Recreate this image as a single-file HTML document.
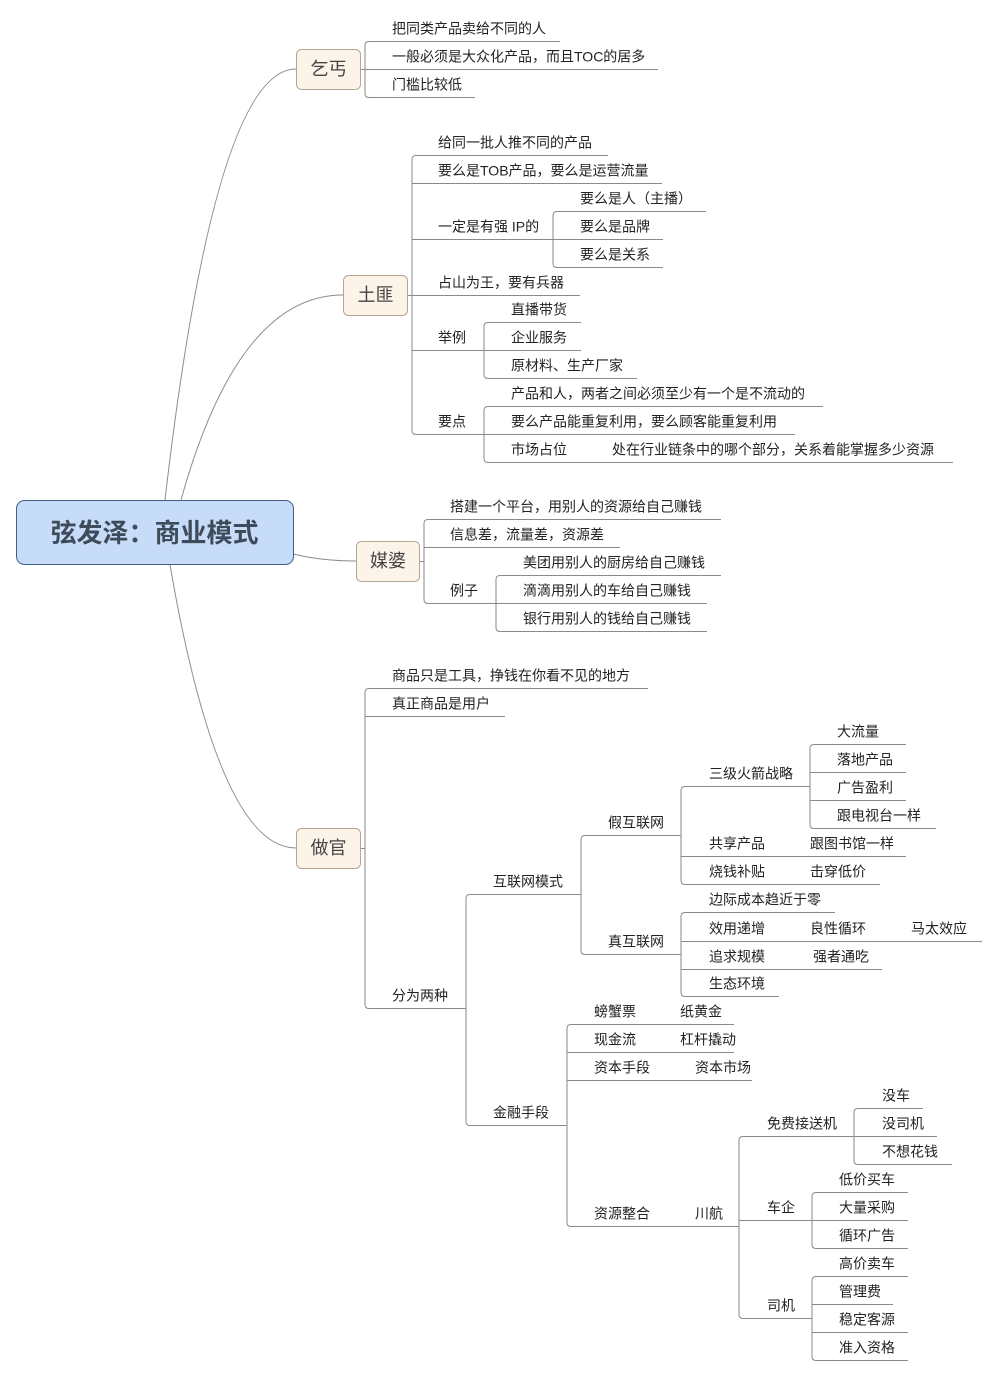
<!DOCTYPE html>
<html>
<head>
<meta charset="utf-8">
<style>
  html, body { margin: 0; padding: 0; background: #ffffff; }
  body { width: 997px; height: 1376px; overflow: hidden; }
  svg { display: block; }
  .t { font-family: "Liberation Sans", "Noto Sans CJK SC", sans-serif; font-size: 14px; fill: #222; }
  .m { font-family: "Liberation Sans", "Noto Sans CJK SC", sans-serif; font-size: 18px; fill: #444; text-anchor: middle; }
  .c { font-family: "Liberation Sans", "Noto Sans CJK SC", sans-serif; font-size: 26px; font-weight: bold; fill: #3f4b5b; text-anchor: middle; }
  .ln { fill: none; stroke: #8a8a8a; stroke-width: 1; }
  .cv { fill: none; stroke: #8c8c8c; stroke-width: 1; }
  .box { fill: #fcf3e9; stroke: #b5a593; stroke-width: 1; }
</style>
</head>
<body>
<svg width="997" height="1376" viewBox="0 0 997 1376" xmlns="http://www.w3.org/2000/svg">
  <!-- main curves -->
  <path class="cv" d="M165 500 Q215 69 296 69"/>
  <path class="cv" d="M181 500 Q238 295 343 295"/>
  <path class="cv" d="M170 565 Q219 848 296 848"/>
  <path class="cv" d="M293 554 Q322 561 356 561"/>

  <!-- central topic -->
  <rect x="16.5" y="500.5" width="277" height="64" rx="8" ry="8" fill="#c6dcf8" stroke="#44608a" stroke-width="1"/>
  <text class="c" x="154.5" y="542">弦发泽：商业模式</text>

  <!-- boxes -->
  <rect class="box" x="296.5" y="49.5" width="64" height="40" rx="5" ry="5"/>
  <text class="m" x="328.5" y="75">乞丐</text>
  <rect class="box" x="343.5" y="275.5" width="64" height="40" rx="5" ry="5"/>
  <text class="m" x="375.5" y="301">土匪</text>
  <rect class="box" x="356.5" y="541.5" width="63" height="40" rx="5" ry="5"/>
  <text class="m" x="388" y="567">媒婆</text>
  <rect class="box" x="296.5" y="828.5" width="64" height="40" rx="5" ry="5"/>
  <text class="m" x="328.5" y="854">做官</text>

  <g transform="translate(0,0.5)">
    <!-- 乞丐 -->
    <path class="ln" d="M560 41H369Q365 41 365 45V93Q365 97 369 97H475"/>
    <path class="ln" d="M361 69H658"/>
    <!-- 土匪 -->
    <path class="ln" d="M608 155H416Q412 155 412 159V430Q412 434 416 434H795"/>
    <path class="ln" d="M412 183H662"/>
    <path class="ln" d="M412 239H663"/>
    <path class="ln" d="M408 295H580"/>
    <path class="ln" d="M412 350H581"/>
    <path class="ln" d="M706 211H557Q553 211 553 215V263Q553 267 557 267H663"/>
    <path class="ln" d="M581 322H488Q484 322 484 326V374Q484 378 488 378H637"/>
    <path class="ln" d="M823 406H488Q484 406 484 410V458Q484 462 488 462H953"/>
    <!-- 媒婆 -->
    <path class="ln" d="M721 519H428Q424 519 424 523V599Q424 603 428 603H707"/>
    <path class="ln" d="M424 547H620"/>
    <path class="ln" d="M420 561H424"/>
    <path class="ln" d="M721 575H500Q496 575 496 579V627Q496 631 500 631H707"/>
    <!-- 做官 -->
    <path class="ln" d="M648 688H369Q365 688 365 692V1004Q365 1008 369 1008H466"/>
    <path class="ln" d="M365 716H505"/>
    <path class="ln" d="M361 848H365"/>
    <path class="ln" d="M581 894H470Q466 894 466 898V1121Q466 1125 470 1125H567"/>
    <path class="ln" d="M681 835H585Q581 835 581 839V950Q581 954 585 954H681"/>
    <path class="ln" d="M810 786H685Q681 786 681 790V880Q681 884 685 884H880"/>
    <path class="ln" d="M681 856H906"/>
    <path class="ln" d="M906 744H814Q810 744 810 748V824Q810 828 814 828H936"/>
    <path class="ln" d="M810 772H906"/>
    <path class="ln" d="M810 800H906"/>
    <path class="ln" d="M835 912H685Q681 912 681 916V992Q681 996 685 996H779"/>
    <path class="ln" d="M681 941H982"/>
    <path class="ln" d="M681 969H882"/>
    <path class="ln" d="M734 1024H571Q567 1024 567 1028V1222Q567 1226 571 1226H739"/>
    <path class="ln" d="M567 1052H734"/>
    <path class="ln" d="M567 1080H752"/>
    <path class="ln" d="M854 1136H743Q739 1136 739 1140V1314Q739 1318 743 1318H812"/>
    <path class="ln" d="M739 1220H908"/>
    <path class="ln" d="M923 1108H858Q854 1108 854 1112V1160Q854 1164 858 1164H952"/>
    <path class="ln" d="M854 1136H937"/>
    <path class="ln" d="M908 1192H816Q812 1192 812 1196V1244Q812 1248 816 1248H908"/>
    <path class="ln" d="M908 1276H816Q812 1276 812 1280V1356Q812 1360 816 1360H908"/>
    <path class="ln" d="M812 1304H893"/>
    <path class="ln" d="M812 1332H908"/>
  </g>

  <g transform="translate(0,-1.5)">
    <!-- 乞丐 -->
    <text class="t" x="392" y="35">把同类产品卖给不同的人</text>
    <text class="t" x="392" y="63">一般必须是大众化产品，而且TOC的居多</text>
    <text class="t" x="392" y="91">门槛比较低</text>
    <!-- 土匪 -->
    <text class="t" x="438" y="149">给同一批人推不同的产品</text>
    <text class="t" x="438" y="177">要么是TOB产品，要么是运营流量</text>
    <text class="t" x="438" y="233">一定是有强 IP的</text>
    <text class="t" x="580" y="205">要么是人（主播）</text>
    <text class="t" x="580" y="233">要么是品牌</text>
    <text class="t" x="580" y="261">要么是关系</text>
    <text class="t" x="438" y="289">占山为王，要有兵器</text>
    <text class="t" x="511" y="316">直播带货</text>
    <text class="t" x="438" y="344">举例</text>
    <text class="t" x="511" y="344">企业服务</text>
    <text class="t" x="511" y="372">原材料、生产厂家</text>
    <text class="t" x="511" y="400">产品和人，两者之间必须至少有一个是不流动的</text>
    <text class="t" x="438" y="428">要点</text>
    <text class="t" x="511" y="428">要么产品能重复利用，要么顾客能重复利用</text>
    <text class="t" x="511" y="456">市场占位</text>
    <text class="t" x="612" y="456">处在行业链条中的哪个部分，关系着能掌握多少资源</text>
    <!-- 媒婆 -->
    <text class="t" x="450" y="513">搭建一个平台，用别人的资源给自己赚钱</text>
    <text class="t" x="450" y="541">信息差，流量差，资源差</text>
    <text class="t" x="450" y="597">例子</text>
    <text class="t" x="523" y="569">美团用别人的厨房给自己赚钱</text>
    <text class="t" x="523" y="597">滴滴用别人的车给自己赚钱</text>
    <text class="t" x="523" y="625">银行用别人的钱给自己赚钱</text>
    <!-- 做官 -->
    <text class="t" x="392" y="682">商品只是工具，挣钱在你看不见的地方</text>
    <text class="t" x="392" y="710">真正商品是用户</text>
    <text class="t" x="392" y="1002">分为两种</text>
    <text class="t" x="493" y="888">互联网模式</text>
    <text class="t" x="608" y="829">假互联网</text>
    <text class="t" x="709" y="780">三级火箭战略</text>
    <text class="t" x="837" y="738">大流量</text>
    <text class="t" x="837" y="766">落地产品</text>
    <text class="t" x="837" y="794">广告盈利</text>
    <text class="t" x="837" y="822">跟电视台一样</text>
    <text class="t" x="709" y="850">共享产品</text>
    <text class="t" x="810" y="850">跟图书馆一样</text>
    <text class="t" x="709" y="878">烧钱补贴</text>
    <text class="t" x="810" y="878">击穿低价</text>
    <text class="t" x="608" y="948">真互联网</text>
    <text class="t" x="709" y="906">边际成本趋近于零</text>
    <text class="t" x="709" y="935">效用递增</text>
    <text class="t" x="810" y="935">良性循环</text>
    <text class="t" x="911" y="935">马太效应</text>
    <text class="t" x="709" y="963">追求规模</text>
    <text class="t" x="813" y="963">强者通吃</text>
    <text class="t" x="709" y="990">生态环境</text>
    <text class="t" x="493" y="1119">金融手段</text>
    <text class="t" x="594" y="1018">螃蟹票</text>
    <text class="t" x="680" y="1018">纸黄金</text>
    <text class="t" x="594" y="1046">现金流</text>
    <text class="t" x="680" y="1046">杠杆撬动</text>
    <text class="t" x="594" y="1074">资本手段</text>
    <text class="t" x="695" y="1074">资本市场</text>
    <text class="t" x="594" y="1220">资源整合</text>
    <text class="t" x="695" y="1220">川航</text>
    <text class="t" x="767" y="1130">免费接送机</text>
    <text class="t" x="882" y="1102">没车</text>
    <text class="t" x="882" y="1130">没司机</text>
    <text class="t" x="882" y="1158">不想花钱</text>
    <text class="t" x="767" y="1214">车企</text>
    <text class="t" x="839" y="1186">低价买车</text>
    <text class="t" x="839" y="1214">大量采购</text>
    <text class="t" x="839" y="1242">循环广告</text>
    <text class="t" x="767" y="1312">司机</text>
    <text class="t" x="839" y="1270">高价卖车</text>
    <text class="t" x="839" y="1298">管理费</text>
    <text class="t" x="839" y="1326">稳定客源</text>
    <text class="t" x="839" y="1354">准入资格</text>
  </g>
</svg>
</body>
</html>
